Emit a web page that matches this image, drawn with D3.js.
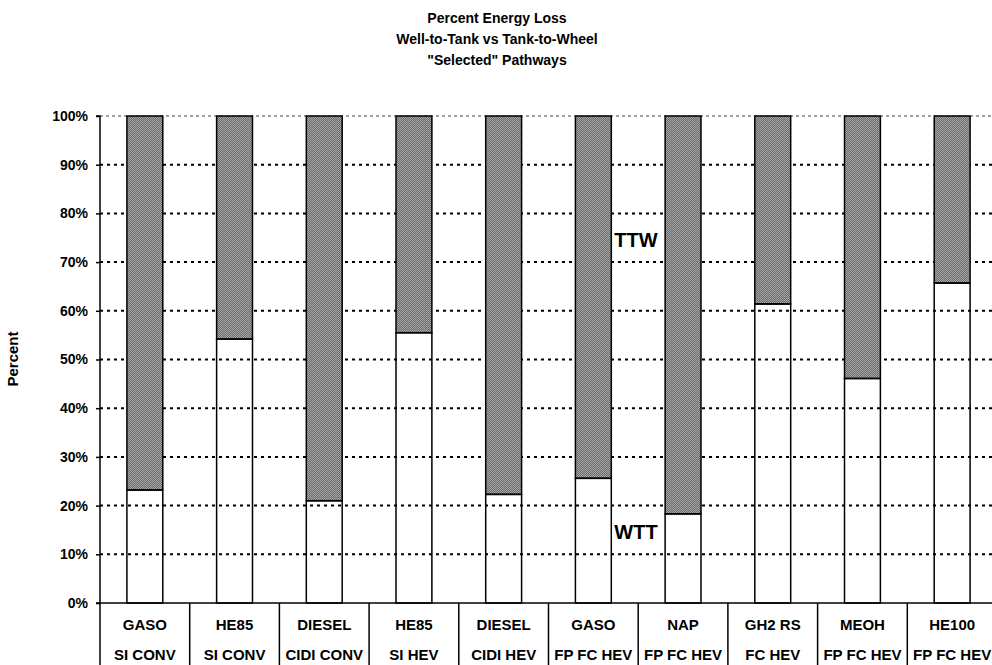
<!DOCTYPE html>
<html>
<head>
<meta charset="utf-8">
<script src="https://cdn.jsdelivr.net/npm/d3@7"></script>
<style>
  body { margin: 0; background: #fff; }
  svg { display: block; font-family: Arial, "Liberation Sans", sans-serif; }
</style>
</head>
<body>
<svg id="chart" width="992" height="665"></svg>
<script>
const fuels = ["GASO", "HE85", "DIESEL", "HE85", "DIESEL", "GASO", "NAP", "GH2 RS", "MEOH", "HE100"];
const vehicles = ["SI CONV", "SI CONV", "CIDI CONV", "SI HEV", "CIDI HEV", "FP FC HEV", "FP FC HEV", "FC HEV", "FP FC HEV", "FP FC HEV"];
const wtt = [23.2, 54.2, 21.0, 55.5, 22.3, 25.6, 18.3, 61.4, 46.1, 65.7];
const ttw = wtt.map(v => 100 - v);
const yTicks = [0, 10, 20, 30, 40, 50, 60, 70, 80, 90, 100];
const titleLines = ["Percent Energy Loss", "Well-to-Tank vs Tank-to-Wheel", "\"Selected\" Pathways"];

const svg = d3.select("#chart");
const pLeft = 100, pRight = 997, pTop = 116, pBottom = 603;

const defs = svg.append("defs");
const pat = defs.append("pattern").attr("id", "hatch").attr("patternUnits", "userSpaceOnUse")
  .attr("width", 2).attr("height", 2);
pat.append("rect").attr("width", 2).attr("height", 2).attr("fill", "#6c6c6c");
pat.append("rect").attr("x", 0).attr("y", 0).attr("width", 1).attr("height", 1).attr("fill", "#a8a8a8");
pat.append("rect").attr("x", 1).attr("y", 1).attr("width", 1).attr("height", 1).attr("fill", "#a0a0a0");

const idx = d3.range(fuels.length);
const x = d3.scaleBand().domain(idx).range([pLeft, pRight]).paddingInner(0.6).paddingOuter(0.3);
const xc = d3.scaleBand().domain(idx).range([pLeft, pRight]);
const y = d3.scaleLinear().domain([0, 100]).range([pBottom, pTop]);

// title
svg.append("g").selectAll("text").data(titleLines).join("text")
  .attr("x", 497).attr("y", (d, i) => 23 + i * 21)
  .attr("text-anchor", "middle").attr("font-size", 14).attr("font-weight", "bold").text(d => d);

// gridlines
svg.append("g").selectAll("line").data(yTicks.filter(t => t > 0 && t < 100)).join("line")
  .attr("x1", pLeft).attr("x2", pRight).attr("y1", d => y(d)).attr("y2", d => y(d))
  .attr("stroke", "#000").attr("stroke-width", 2).attr("stroke-dasharray", "3,4");
svg.append("line").attr("x1", pLeft).attr("x2", pRight).attr("y1", y(100)).attr("y2", y(100))
  .attr("stroke", "#a0a0a0").attr("stroke-width", 2).attr("stroke-dasharray", "3,3");

// bars
const g = svg.append("g");
g.selectAll("rect.ttw").data(idx).join("rect").attr("class", "ttw")
  .attr("x", i => x(i)).attr("width", x.bandwidth())
  .attr("y", i => y(wtt[i] + ttw[i])).attr("height", i => y(wtt[i]) - y(wtt[i] + ttw[i]))
  .attr("fill", "url(#hatch)").attr("stroke", "#000").attr("stroke-width", 1.5);
g.selectAll("rect.wtt").data(idx).join("rect").attr("class", "wtt")
  .attr("x", i => x(i)).attr("width", x.bandwidth())
  .attr("y", i => y(wtt[i])).attr("height", i => y(0) - y(wtt[i]))
  .attr("fill", "none").attr("stroke", "#000").attr("stroke-width", 1.5);

// y axis
const yAxis = d3.axisLeft(y).tickValues(yTicks).tickFormat(d => d + "%").tickSize(4).tickPadding(8);
const ya = svg.append("g").attr("transform", `translate(${pLeft},0)`).call(yAxis);
ya.select(".domain").attr("stroke", "#000").attr("stroke-width", 1.5).attr("d", `M-4,${pTop}H0V${pBottom}`);
ya.selectAll(".tick line").attr("stroke", "#000").attr("stroke-width", 1.5);
ya.selectAll(".tick text").attr("font-size", 14).attr("font-weight", "bold").attr("fill", "#000")
  .attr("font-family", "Arial, 'Liberation Sans', sans-serif");

// x axis table
svg.append("line").attr("x1", pLeft - 4).attr("x2", pRight).attr("y1", pBottom).attr("y2", pBottom)
  .attr("stroke", "#000").attr("stroke-width", 1.5);
svg.append("g").selectAll("line").data(idx.concat([fuels.length])).join("line")
  .attr("x1", i => i < fuels.length ? xc(i) : pRight).attr("x2", i => i < fuels.length ? xc(i) : pRight)
  .attr("y1", pBottom).attr("y2", 665).attr("stroke", "#000").attr("stroke-width", 1.5);
const lab = svg.append("g").attr("font-size", 15).attr("font-weight", "bold").attr("text-anchor", "middle");
lab.selectAll("text.f").data(idx).join("text").attr("class", "f")
  .attr("x", i => xc(i) + xc.bandwidth() / 2).attr("y", 630).text(i => fuels[i]);
lab.selectAll("text.v").data(idx).join("text").attr("class", "v")
  .attr("x", i => xc(i) + xc.bandwidth() / 2).attr("y", 660).text(i => vehicles[i]);

// y label
svg.append("text").attr("transform", "translate(18,359) rotate(-90)")
  .attr("text-anchor", "middle").attr("font-size", 15).attr("font-weight", "bold").text("Percent");

// series labels
svg.append("text").attr("x", x(5) + x.bandwidth() + 3).attr("y", 247).attr("font-size", 20)
  .attr("font-weight", "bold").text("TTW");
svg.append("text").attr("x", x(5) + x.bandwidth() + 3).attr("y", 539).attr("font-size", 20)
  .attr("font-weight", "bold").text("WTT");
</script>
</body>
</html>
